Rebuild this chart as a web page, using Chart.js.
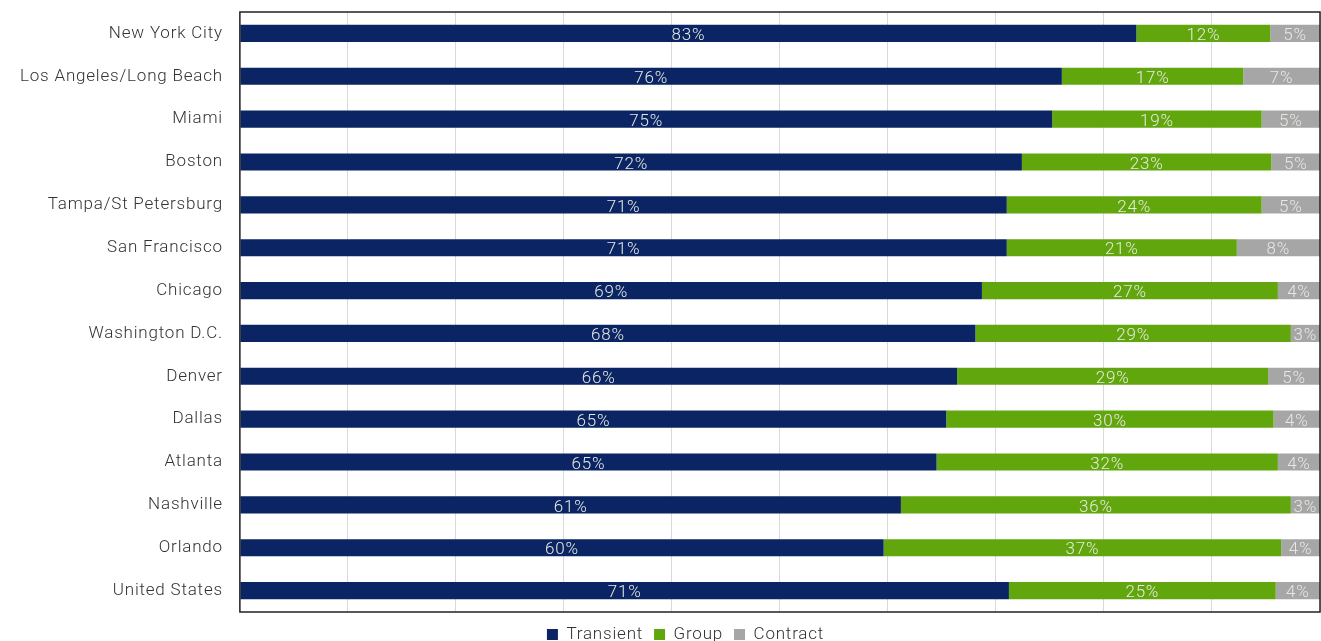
<!DOCTYPE html>
<html>
<head>
<meta charset="utf-8">
<script src="https://cdn.jsdelivr.net/npm/chart.js@4.4.0/dist/chart.umd.min.js"></script>
<style>
  html, body { margin: 0; padding: 0; background: #fff; }
  #wrap { width: 1321px; height: 641px; }
</style>
</head>
<body>
<div id="wrap"><canvas id="c" width="1321" height="641"></canvas></div>
<script>
const cities = ['New York City', 'Los Angeles/Long Beach', 'Miami', 'Boston', 'Tampa/St Petersburg',
  'San Francisco', 'Chicago', 'Washington D.C.', 'Denver', 'Dallas', 'Atlanta', 'Nashville',
  'Orlando', 'United States'];
const transient = [83.0, 76.1, 75.2, 72.4, 71.0, 71.0, 68.7, 68.1, 66.4, 65.4, 64.5, 61.2, 59.6, 71.2];
const group     = [12.4, 16.8, 19.4, 23.1, 23.6, 21.3, 27.4, 29.2, 28.8, 30.3, 31.6, 36.1, 36.8, 24.7];
const contract  = [4.6, 7.1, 5.4, 4.5, 5.4, 7.7, 3.9, 2.7, 4.8, 4.3, 3.9, 2.7, 3.6, 4.1];

const FONT = 'Roboto, "Liberation Sans", sans-serif';
const SPACING = '0.8px';

// the reference text is set wide, so letter-space everything
const spacing = {
  id: 'spacing',
  beforeLayout(chart) { chart.ctx.letterSpacing = SPACING; },
  beforeDraw(chart) { chart.ctx.letterSpacing = SPACING; }
};

// legend sits a bit right of the canvas centre in the reference
const legendShift = {
  id: 'legendShift',
  afterLayout(chart) {
    chart.legend.left += 24;
    chart.legend.right += 24;
  }
};

// percent labels centred in each segment
const segLabels = {
  id: 'segLabels',
  afterDatasetsDraw(chart) {
    const ctx = chart.ctx;
    ctx.save();
    ctx.font = '300 17px ' + FONT;
    ctx.fillStyle = '#e6e9e2';
    ctx.textAlign = 'center';
    ctx.textBaseline = 'middle';
    chart.data.datasets.forEach((ds, di) => {
      chart.getDatasetMeta(di).data.forEach((bar, i) => {
        const p = bar.getCenterPoint();
        ctx.fillText(Math.round(ds.data[i]) + '%', p.x, p.y + 2.5);
      });
    });
    ctx.restore();
  }
};

// black frame round the plot area
const frame = {
  id: 'frame',
  afterDraw(chart) {
    const a = chart.chartArea, ctx = chart.ctx;
    ctx.save();
    ctx.strokeStyle = '#222';
    ctx.lineWidth = 1.5;
    ctx.strokeRect(a.left, a.top, a.right - a.left, a.bottom - a.top);
    ctx.restore();
  }
};

new Chart(document.getElementById('c'), {
  type: 'bar',
  data: {
    labels: cities,
    datasets: [
      { label: 'Transient', data: transient, backgroundColor: '#0b2463' },
      { label: 'Group', data: group, backgroundColor: '#62a60e' },
      { label: 'Contract', data: contract, backgroundColor: '#a6a6a6' }
    ]
  },
  options: {
    indexAxis: 'y',
    responsive: false,
    animation: false,
    layout: { padding: { top: 12, right: 1, left: 3, bottom: -12 } },
    datasets: { bar: { categoryPercentage: 1, barPercentage: 0.4 } },
    scales: {
      x: {
        stacked: true, min: 0, max: 100,
        ticks: { display: false, stepSize: 10 },
        grid: { color: '#d9d9d9', lineWidth: 1, drawTicks: false },
        border: { display: false },
        afterFit(scale) { scale.height = 3; }
      },
      y: {
        stacked: true,
        ticks: { color: '#333', font: { family: FONT, size: 17, weight: '300' }, padding: 17 },
        grid: { display: false, drawTicks: false },
        border: { display: false },
        afterFit(scale) { scale.paddingTop = 0; scale.paddingBottom = 0; }
      }
    },
    plugins: {
      legend: {
        position: 'bottom',
        labels: {
          color: '#333', boxWidth: 11, boxHeight: 11, padding: 11,
          font: { family: FONT, size: 17, weight: '300' }
        }
      },
      tooltip: { enabled: false }
    }
  },
  plugins: [spacing, legendShift, segLabels, frame]
});
</script>
</body>
</html>
